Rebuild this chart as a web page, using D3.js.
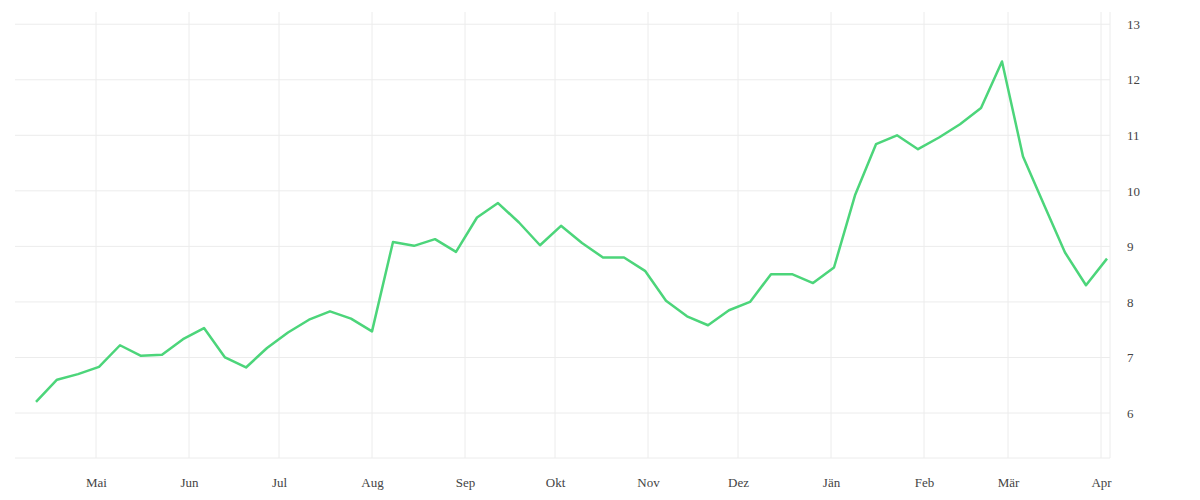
<!DOCTYPE html>
<html>
<head>
<meta charset="utf-8">
<script src="https://cdn.jsdelivr.net/npm/d3@7"></script>
<style>
  body { margin: 0; background: #fff; }
  text { font-family: "Liberation Serif", serif; }
</style>
</head>
<body>
<div id="chart"></div>
<script>
// weekly values
const startDate = "2022-04-11";
const values = [6.2, 6.6, 6.7, 6.83, 7.22, 7.03, 7.05, 7.33, 7.53, 7.0, 6.82, 7.17, 7.45,
  7.68, 7.83, 7.7, 7.47, 9.08, 9.01, 9.13, 8.9, 9.52, 9.78, 9.43, 9.02, 9.37, 9.06,
  8.8, 8.8, 8.56, 8.02, 7.74, 7.58, 7.85, 8.0, 8.5, 8.5, 8.34, 8.62, 9.92, 10.84,
  11.0, 10.75, 10.96, 11.2, 11.49, 12.33, 10.62, 9.75, 8.89, 8.3, 8.78];
const monthLabels = ["Mai", "Jun", "Jul", "Aug", "Sep", "Okt", "Nov", "Dez", "Jän", "Feb", "Mär", "Apr"];
const yTicks = [6, 7, 8, 9, 10, 11, 12, 13];

const width = 1200, height = 500,
  margin = { top: 12, right: 90, bottom: 42, left: 15 };

const parse = d3.utcParse("%Y-%m-%d");
const t0 = parse(startDate);
const data = values.map((v, i) => ({ date: d3.utcDay.offset(t0, i * 7), value: v }));

const svg = d3.select("#chart").append("svg")
  .attr("width", width).attr("height", height);

const x = d3.scaleUtc()
  .domain([parse("2022-04-04"), parse("2023-04-04")])
  .range([margin.left, width - margin.right]);
const y = d3.scaleLinear()
  .domain([5.19, 13.22])
  .range([height - margin.bottom, margin.top]);

const months = d3.utcMonth.range(parse("2022-05-01"), parse("2023-04-02"));

// grid
svg.append("g").selectAll("line").data(yTicks.concat([5.19])).join("line")
  .attr("x1", margin.left).attr("x2", width - margin.right)
  .attr("y1", d => y(d)).attr("y2", d => y(d))
  .attr("stroke", "#ececec");
svg.append("g").selectAll("line").data(months).join("line")
  .attr("x1", d => x(d)).attr("x2", d => x(d))
  .attr("y1", margin.top).attr("y2", height - margin.bottom)
  .attr("stroke", "#ececec");
svg.append("line")
  .attr("x1", width - margin.right).attr("x2", width - margin.right)
  .attr("y1", margin.top).attr("y2", height - margin.bottom)
  .attr("stroke", "#ececec");

// axes
const xAxis = svg.append("g")
  .attr("transform", `translate(0,${height - margin.bottom})`)
  .call(d3.axisBottom(x).tickValues(months).tickFormat((d, i) => monthLabels[i]).tickSize(0).tickPadding(20));
xAxis.select(".domain").remove();
xAxis.selectAll("text").attr("font-size", 13).attr("fill", "#444");

const yAxis = svg.append("g")
  .attr("transform", `translate(${width - margin.right + 11},0)`)
  .call(d3.axisRight(y).tickValues(yTicks).tickSize(0).tickPadding(6));
yAxis.select(".domain").remove();
yAxis.selectAll("text").attr("font-size", 13).attr("fill", "#444");

// line
svg.append("path").datum(data)
  .attr("fill", "none")
  .attr("stroke", "#4cd57a")
  .attr("stroke-width", 2.5)
  .attr("stroke-linejoin", "round")
  .attr("d", d3.line().x(d => x(d.date)).y(d => y(d.value)));
</script>
</body>
</html>
